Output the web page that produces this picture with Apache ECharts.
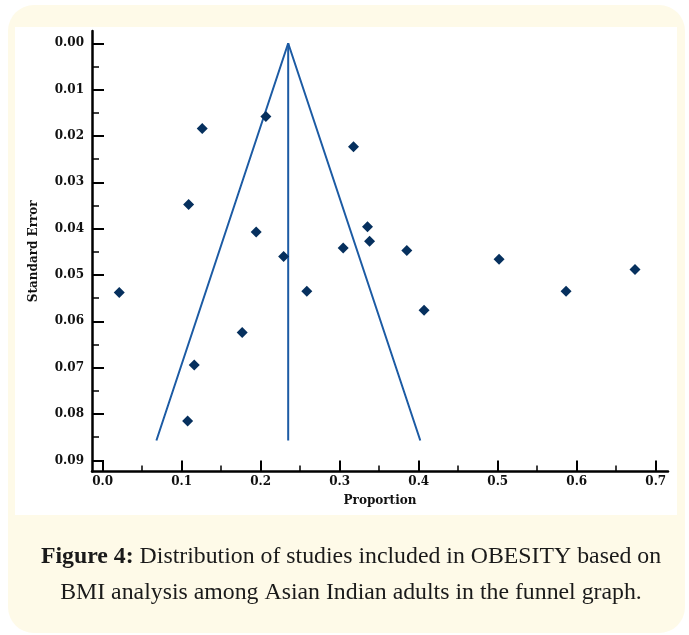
<!DOCTYPE html>
<html>
<head>
<meta charset="utf-8">
<script src="https://cdn.jsdelivr.net/npm/echarts@6/dist/echarts.min.js"></script>
<style>
html,body{margin:0;padding:0;background:#ffffff;}
#chart{width:689px;height:635px;}
</style>
</head>
<body>
<div id="chart"></div>
<script>
// Study proportions (x) and standard errors (y)
const proportion = [0.1260, 0.2066, 0.3175, 0.1088, 0.1943, 0.3044, 0.3352, 0.3378, 0.3849, 0.5017, 0.6737, 0.5865, 0.4068, 0.2290, 0.2584, 0.0210, 0.1766, 0.1159, 0.1075];
const standardError = [0.0184, 0.0158, 0.0223, 0.0348, 0.0407, 0.0442, 0.0396, 0.0427, 0.0447, 0.0466, 0.0488, 0.0535, 0.0576, 0.0460, 0.0535, 0.0538, 0.0624, 0.0694, 0.0815];

// Funnel: pooled proportion and the 95% limits at the widest SE
const pooled = 0.2348;
const funnelX = [0.068, 0.2348, 0.402];
const funnelY = [0.0857, 0, 0.0857];

// Tick labels
const xTicks = [0, 0.1, 0.2, 0.3, 0.4, 0.5, 0.6, 0.7];
const xMinorTicks = [0.05, 0.15, 0.25, 0.35, 0.45, 0.55, 0.65];
const yTicks = [0, 0.01, 0.02, 0.03, 0.04, 0.05, 0.06, 0.07, 0.08, 0.09];
const yMinorTicks = [0.005, 0.015, 0.025, 0.035, 0.045, 0.055, 0.065, 0.075, 0.085];

const scatterData = proportion.map((p, i) => [p, standardError[i]]);
const funnelData = funnelX.map((x, i) => [x, funnelY[i]]);
const centerData = [[pooled, 0], [pooled, funnelY[0]]];

const labelFont = {fontFamily: 'DejaVu Serif', fontWeight: 'bold', fontSize: 12, color: '#111'};
const XMIN = -0.0135, XMAX = 0.7155, YMIN = -0.00265, YMAX = 0.0924;

const chart = echarts.init(document.getElementById('chart'), null, {renderer: 'canvas'});
chart.setOption({
  animation: false,
  backgroundColor: '#ffffff',
  graphic: [
    {type: 'rect', z: -100, shape: {x: 8, y: 5, width: 677, height: 628, r: 26}, style: {fill: '#fefae8'}},
    {type: 'rect', z: -99, shape: {x: 15, y: 27, width: 662, height: 488}, style: {fill: '#ffffff'}}
  ],
  title: {
    left: 346, top: 534, textAlign: 'center',
    text: '{b|Figure 4:} Distribution of studies included in OBESITY based on\nBMI analysis among Asian Indian adults in the funnel graph.',
    textStyle: {
      fontFamily: 'Liberation Serif', fontSize: 23.8, fontWeight: 'normal', color: '#1a1a1a', lineHeight: 36,
      rich: {b: {fontFamily: 'Liberation Serif', fontSize: 23.8, fontWeight: 'bold', color: '#1a1a1a', lineHeight: 36}}
    }
  },
  grid: {left: 92, right: 21, top: 31, bottom: 163.5, containLabel: false},
  xAxis: [
    {
      type: 'value', min: XMIN, max: XMAX, position: 'bottom',
      name: 'Proportion', nameLocation: 'middle', nameGap: 23,
      nameTextStyle: labelFont,
      axisLine: {show: true, onZero: false, lineStyle: {color: '#000', width: 2.5}},
      axisTick: {show: true, inside: true, length: 11, customValues: xTicks, lineStyle: {color: '#000', width: 2}},
      axisLabel: {show: true, customValues: xTicks, margin: 4, formatter: v => v.toFixed(1), ...labelFont},
      splitLine: {show: false}
    },
    {
      type: 'value', min: XMIN, max: XMAX, position: 'bottom',
      axisLine: {show: false, onZero: false},
      axisTick: {show: true, inside: true, length: 6, customValues: xMinorTicks, lineStyle: {color: '#000', width: 1.5}},
      axisLabel: {show: false},
      splitLine: {show: false}
    }
  ],
  yAxis: [
    {
      type: 'value', inverse: true, min: YMIN, max: YMAX, position: 'left',
      name: 'Standard Error', nameLocation: 'middle', nameGap: 52,
      nameTextStyle: labelFont,
      axisLine: {show: true, onZero: false, lineStyle: {color: '#000', width: 2.5}},
      axisTick: {show: true, inside: true, length: 12, customValues: yTicks, lineStyle: {color: '#000', width: 2}},
      axisLabel: {show: true, customValues: yTicks, margin: 8, formatter: v => v.toFixed(2), ...labelFont},
      splitLine: {show: false}
    },
    {
      type: 'value', inverse: true, min: YMIN, max: YMAX, position: 'left',
      axisLine: {show: false, onZero: false},
      axisTick: {show: true, inside: true, length: 7, customValues: yMinorTicks, lineStyle: {color: '#000', width: 1.5}},
      axisLabel: {show: false},
      splitLine: {show: false}
    }
  ],
  series: [
    {
      type: 'line', data: funnelData, xAxisIndex: 0, yAxisIndex: 0,
      showSymbol: false, symbol: 'none', lineStyle: {color: '#1c5ba4', width: 2}, z: 3, silent: true
    },
    {
      type: 'line', data: centerData, xAxisIndex: 0, yAxisIndex: 0,
      showSymbol: false, symbol: 'none', lineStyle: {color: '#1c5ba4', width: 2}, z: 3, silent: true
    },
    {
      type: 'scatter', data: scatterData, xAxisIndex: 0, yAxisIndex: 0,
      symbol: 'diamond', symbolSize: 11, itemStyle: {color: '#06305e', opacity: 1}, z: 4
    }
  ]
});
</script>
</body>
</html>
